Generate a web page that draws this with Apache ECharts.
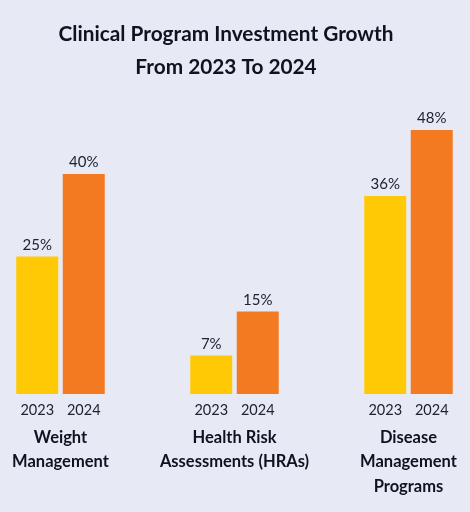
<!DOCTYPE html>
<html>
<head>
<meta charset="utf-8">
<script src="https://cdn.jsdelivr.net/npm/echarts@6/dist/echarts.min.js"></script>
<style>
html,body{margin:0;padding:0;background:#e7eaf5;}
#c{width:470px;height:512px;}
</style>
</head>
<body>
<div id="c"></div>
<script>
var categories = ['Weight\nManagement', 'Health Risk\nAssessments (HRAs)', 'Disease\nManagement\nPrograms'];
var years = ['2023', '2024'];
var values2023 = [25, 7, 36];
var values2024 = [40, 15, 48];
var colors = ['#ffc905', '#f47a22'];
var gridLefts = [14, 188, 362];

var chart = echarts.init(document.getElementById('c'), null, {renderer: 'canvas'});
var grids = [], xAxes = [], yAxes = [], series = [];
categories.forEach(function (cat, i) {
  grids.push({left: gridLefts[i], width: 93, top: 64, height: 330});
  xAxes.push({
    type: 'category', gridIndex: i, data: years,
    axisLine: {show: false}, axisTick: {show: false},
    axisLabel: {color: '#222230', fontSize: 14.5, fontFamily: 'Lato', margin: 9},
    name: cat, nameLocation: 'middle', nameGap: 31,
    nameTextStyle: {color: '#111122', fontSize: 16.5, fontWeight: 'bold', fontFamily: 'Lato', lineHeight: 24.5, verticalAlign: 'top'}
  });
  yAxes.push({type: 'value', gridIndex: i, min: 0, max: 60, show: false});
  series.push({
    type: 'bar', xAxisIndex: i, yAxisIndex: i, barWidth: 42,
    data: [
      {value: values2023[i], itemStyle: {color: colors[0]}},
      {value: values2024[i], itemStyle: {color: colors[1]}}
    ],
    label: {show: true, position: 'top', distance: 4, formatter: '{c}%', color: '#222230', fontSize: 15, fontFamily: 'Lato'},
    silent: true, animation: false
  });
});

chart.setOption({
  backgroundColor: '#e7eaf5',
  animation: false,
  title: {
    text: 'Clinical Program Investment Growth\nFrom 2023 To 2024',
    left: 221, top: 13, textAlign: 'center',
    textStyle: {color: '#111122', fontSize: 20.8, fontWeight: 'bold', fontFamily: 'Lato', lineHeight: 33}
  },
  grid: grids, xAxis: xAxes, yAxis: yAxes, series: series
});
</script>
</body>
</html>
